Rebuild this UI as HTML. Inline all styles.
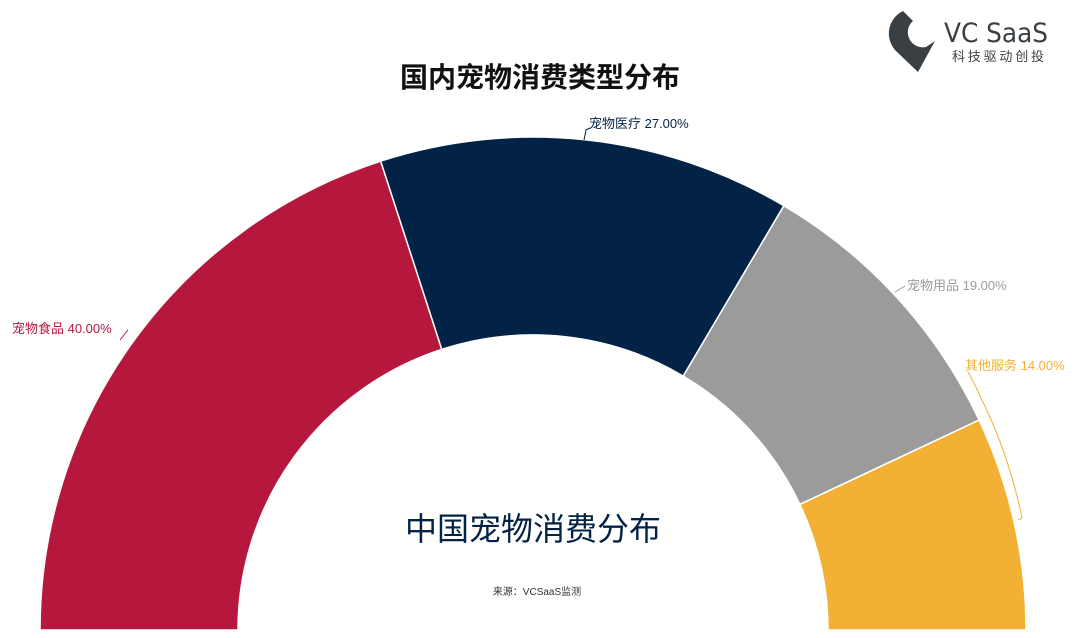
<!DOCTYPE html>
<html><head><meta charset="utf-8"><style>
html,body{margin:0;padding:0;background:#fff;}
body{width:1080px;height:638px;overflow:hidden;position:relative;font-family:"Liberation Sans","Noto Sans CJK SC",sans-serif;}
</style></head><body>
<svg width="1080" height="638" viewBox="0 0 1080 638" xmlns="http://www.w3.org/2000/svg" style="position:absolute;left:0;top:0">
<g stroke="#fff" stroke-width="1.5">
<path d="M40,630 A493,493 0 0 1 380.7,161.1 L441.8,349.4 A295,295 0 0 0 238,630 Z" fill="#b5173d"/>
<path d="M380.7,161.1 A493,493 0 0 1 783.9,205.7 L683.2,376.1 A295,295 0 0 0 441.8,349.4 Z" fill="#022346"/>
<path d="M783.9,205.7 A493,493 0 0 1 979.1,420.1 L799.9,504.4 A295,295 0 0 0 683.2,376.1 Z" fill="#9b9b9b"/>
<path d="M979.1,420.1 A493,493 0 0 1 1026,630 L828,630 A295,295 0 0 0 799.9,504.4 Z" fill="#f2b035"/>
</g>
<path d="M584,140 L586,130 L590,128" fill="none" stroke="#022346" stroke-width="1"/>
<path d="M120,340 L128,330" fill="none" stroke="#b5173d" stroke-width="1"/>
<path d="M895,292 L905,286" fill="none" stroke="#9b9b9b" stroke-width="1"/>
<path d="M968,372 L975,385 L980,396 A493,493 0 0 1 1022,518 L1018,520" fill="none" stroke="#f2b035" stroke-width="1"/>
<g font-family="Liberation Sans, Noto Sans CJK SC, sans-serif" font-size="13">
<text x="589" y="128" fill="#022346">宠物医疗 27.00%</text>
<text x="12" y="333" fill="#b5173d">宠物食品 40.00%</text>
<text x="907" y="290" fill="#9b9b9b">宠物用品 19.00%</text>
<text x="965" y="370" fill="#f2b035">其他服务 14.00%</text>
</g>
<text x="540" y="87" text-anchor="middle" font-size="28" font-weight="bold" fill="#111" font-family="Liberation Sans, Noto Sans CJK SC, sans-serif">国内宠物消费类型分布</text>
<text x="533" y="540" text-anchor="middle" font-size="32" fill="#022346" font-family="Liberation Sans, Noto Sans CJK SC, sans-serif">中国宠物消费分布</text>
<text x="537" y="595" text-anchor="middle" font-size="10" fill="#333" font-family="Liberation Sans, Noto Sans CJK SC, sans-serif">来源：VCSaaS监测</text>
<path d="M903,11 L913,21 A15,15 0 0 0 926,47 L935,41 L918,72 L897,52 A25,25 0 0 1 903,11 Z" fill="#3a3f44"/>
<text x="944" y="42" font-size="27" fill="#3a3f44" font-family="DejaVu Sans, Liberation Sans, sans-serif" textLength="104" lengthAdjust="spacingAndGlyphs">VC SaaS</text>
<text x="952" y="61" font-size="13" fill="#3a3f44" font-family="Liberation Sans, Noto Sans CJK SC, sans-serif" textLength="92">科技驱动创投</text>
</svg>
</body></html>
